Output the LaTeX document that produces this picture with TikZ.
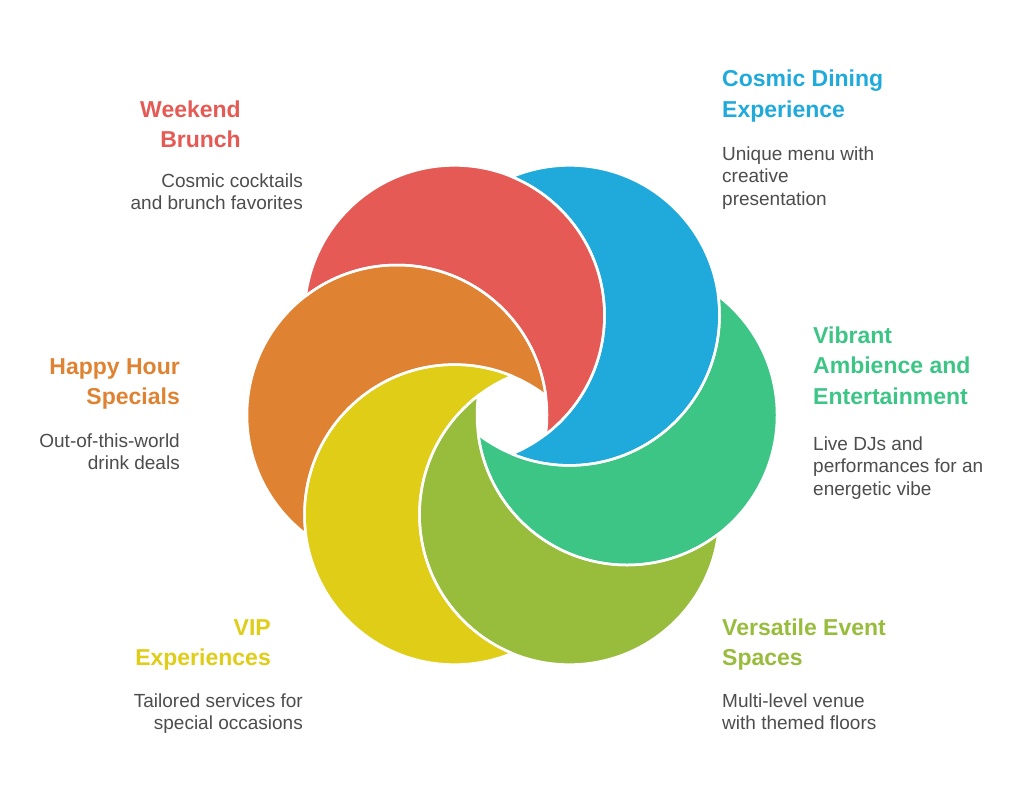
\documentclass[tikz,border=0pt]{standalone}
\usepackage{fontspec}
\setmainfont{Liberation Sans}
\definecolor{cred}{HTML}{E55A55}
\definecolor{cblue}{HTML}{20AADB}
\definecolor{cgreen}{HTML}{3DC586}
\definecolor{clime}{HTML}{98BD3C}
\definecolor{cyellow}{HTML}{DFCD17}
\definecolor{corange}{HTML}{DF8333}
\definecolor{txtgray}{HTML}{4D4D4D}
\newcommand\mypetal[3]{%
  \begin{scope}[even odd rule]
    \clip (-10,-10) rectangle (1034,821) (#2) circle (150);
    \fill[#3] (#1) circle (150);
  \end{scope}}
\newcommand\mypetalrim[2]{%
  \begin{scope}[even odd rule]
    \clip (-10,-10) rectangle (1034,821) (#2) circle (150);
    \draw[rim] (#1) circle (150);
  \end{scope}
  \begin{scope}
    \clip (#1) circle (150);
    \draw[rim] (#2) circle (150);
  \end{scope}}
\begin{document}
\begin{tikzpicture}[x=1pt,y=-1pt,
  rim/.style={draw=white,line width=2.5pt},
  title/.style={font=\fontsize{23}{30.5}\selectfont\bfseries,inner sep=0pt},
  body/.style={font=\fontsize{19}{22.5}\selectfont,text=txtgray,inner sep=0pt}]
\useasboundingbox (0,0) rectangle (1024,811);
\fill[white] (0,0) rectangle (1024,811);
\coordinate (cr) at (454.5,315.4);
\coordinate (cb) at (569.5,315.4);
\coordinate (cg) at (627,415);
\coordinate (cl) at (569.5,514.6);
\coordinate (cy) at (454.5,514.6);
\coordinate (co) at (397,415);
% crescents: own circle minus the next one
\mypetal{cr}{co}{cred}
\mypetal{co}{cy}{corange}
\mypetal{cy}{cl}{cyellow}
\mypetal{cl}{cg}{clime}
\mypetal{cg}{cb}{cgreen}
\mypetal{cb}{cr}{cblue}
% white rims
\mypetalrim{cr}{co}
\mypetalrim{co}{cy}
\mypetalrim{cy}{cl}
\mypetalrim{cl}{cg}
\mypetalrim{cg}{cb}
\mypetalrim{cb}{cr}
% labels (anchored at the baseline of their last line)
\node[title,text=cred,align=right,anchor=base east] (t1) at (241,147.5) {Weekend\\Brunch};
\node[body,align=right,anchor=base east] (d1) at (303,209.5) {Cosmic cocktails\\and brunch favorites};
\node[title,text=cblue,align=left,anchor=base west] (t2) at (722,117) {Cosmic Dining\\Experience};
\node[body,align=left,anchor=base west] (d2) at (722,205) {Unique menu with\\creative\\presentation};
\node[title,text=cgreen,align=left,anchor=base west] (t3) at (813,404) {Vibrant\\Ambience and\\Entertainment};
\node[body,align=left,anchor=base west] (d3) at (813,495) {Live DJs and\\performances for an\\energetic vibe};
\node[title,text=clime,align=left,anchor=base west] (t4) at (722,665.5) {Versatile Event\\Spaces};
\node[body,align=left,anchor=base west] (d4) at (722,729.5) {Multi-level venue\\with themed floors};
\node[title,text=cyellow,align=right,anchor=base east] (t5) at (271,665.5) {VIP\\Experiences};
\node[body,align=right,anchor=base east] (d5) at (303,729.5) {Tailored services for\\special occasions};
\node[title,text=corange,align=right,anchor=base east] (t6) at (180,404.5) {Happy Hour\\Specials};
\node[body,align=right,anchor=base east] (d6) at (180,469.5) {Out-of-this-world\\drink deals};
\end{tikzpicture}
\end{document}
